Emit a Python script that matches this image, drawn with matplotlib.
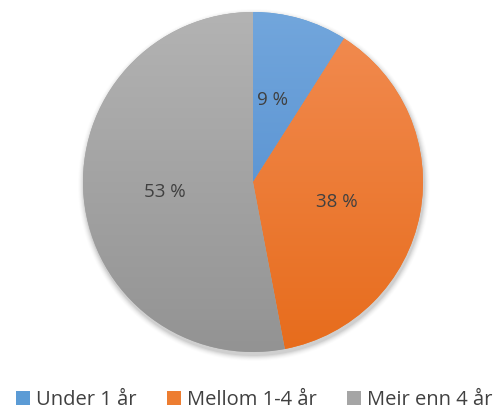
import matplotlib

matplotlib.use("Agg")
import matplotlib.pyplot as plt  # noqa: E402
import numpy as np  # noqa: E402
from matplotlib.colors import LinearSegmentedColormap  # noqa: E402
from matplotlib.patches import Circle, Patch  # noqa: E402

labels = ["Under 1 år", "Mellom 1-4 år", "Meir enn 4 år"]
values = [9, 38, 53]
pct_labels = ["9 %", "38 %", "53 %"]
tops = ["#72a6dc", "#f28c52", "#b3b3b3"]
bottoms = ["#4a87cc", "#e76c1c", "#939393"]
flat = ["#5b9bd5", "#ed7d31", "#a5a5a5"]

plt.rcParams["font.family"] = ["Open Sans", "DejaVu Sans"]

W, H = 504, 412
fig = plt.figure(figsize=(W / 100, H / 100), dpi=100)
ax = fig.add_axes([0, 0, 1, 1])
cx, cy, r = 253, H - 182, 170

# soft drop shadow
for i, a in enumerate(np.linspace(0.05, 0.01, 6)):
    ax.add_patch(Circle((cx + 1, cy - 3), r + 1 + i, color="black", alpha=a, lw=0, zorder=0))

wedges, _ = ax.pie(values, startangle=90, counterclock=False, center=(cx, cy),
                   radius=r, colors=flat, frame=True,
                   wedgeprops=dict(linewidth=0))

grad = np.linspace(0, 1, 256).reshape(-1, 1)
for w, c0, c1 in zip(wedges, tops, bottoms):
    cmap = LinearSegmentedColormap.from_list("g", [c0, c1])
    im = ax.imshow(grad, cmap=cmap, aspect="auto", zorder=2,
                   extent=(cx - r, cx + r, cy - r, cy + r), origin="upper")
    im.set_clip_path(w)

# percentage labels
angles = np.cumsum([0] + values)
offsets = [(-5, -3), (-3, -3), (0, -2)]
for i, txt in enumerate(pct_labels):
    mid = 90 - 3.6 * (angles[i] + angles[i + 1]) / 2
    rr = r * 0.52
    x = cx + rr * np.cos(np.radians(mid)) + offsets[i][0]
    y = cy + rr * np.sin(np.radians(mid)) + offsets[i][1]
    ax.text(x, y, txt, ha="center", va="center", fontsize=13.5, color="#404040", zorder=5)

ax.set_xlim(0, W)
ax.set_ylim(0, H)
ax.set_aspect("equal")
ax.axis("off")

handles = [Patch(facecolor=c) for c in flat]
fig.legend(handles, labels, loc="lower center", bbox_to_anchor=(0.505, -0.04), ncol=3,
           frameon=False, fontsize=14.5, handlelength=0.7, handleheight=0.7,
           handletextpad=0.3, columnspacing=1.5, labelcolor="#404040")

fig.savefig("out.png", dpi=100)
